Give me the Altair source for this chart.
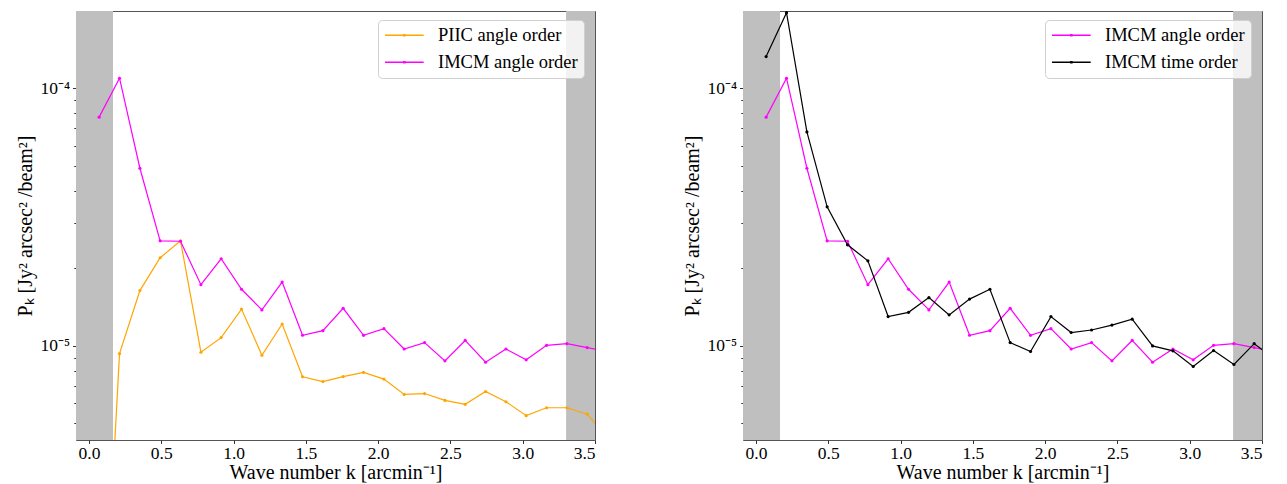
import altair as alt
import pandas as pd

# wave numbers (arcmin^-1)
k = [0.070, 0.211, 0.352, 0.492, 0.633, 0.774, 0.914, 1.055, 1.196, 1.336,
     1.477, 1.618, 1.758, 1.899, 2.040, 2.180, 2.321, 2.462, 2.602, 2.743,
     2.884, 3.024, 3.165, 3.306, 3.446, 3.587]

piic_angle = [3.1e-7, 9.33e-6, 1.64e-5, 2.20e-5, 2.56e-5, 9.45e-6, 1.077e-5, 1.39e-5, 9.2e-6, 1.216e-5,
              7.59e-6, 7.27e-6, 7.60e-6, 7.89e-6, 7.43e-6, 6.48e-6, 6.53e-6, 6.14e-6, 5.93e-6, 6.65e-6,
              6.07e-6, 5.36e-6, 5.75e-6, 5.75e-6, 5.43e-6, 4.40e-6]

imcm_angle = [7.74e-5, 1.096e-4, 4.90e-5, 2.56e-5, 2.55e-5, 1.73e-5, 2.18e-5, 1.66e-5, 1.38e-5, 1.77e-5,
              1.10e-5, 1.146e-5, 1.40e-5, 1.099e-5, 1.167e-5, 9.73e-6, 1.03e-5, 8.75e-6, 1.05e-5, 8.64e-6,
              9.73e-6, 8.83e-6, 1.005e-5, 1.02e-5, 9.85e-6, 9.5e-6]

imcm_time = [1.33e-4, 1.97e-4, 6.78e-5, 3.47e-5, 2.47e-5, 2.14e-5, 1.30e-5, 1.35e-5, 1.54e-5, 1.32e-5,
             1.52e-5, 1.66e-5, 1.03e-5, 9.51e-6, 1.30e-5, 1.127e-5, 1.153e-5, 1.205e-5, 1.27e-5, 1.00e-5,
             9.57e-6, 8.32e-6, 9.59e-6, 8.47e-6, 1.02e-5, 8.9e-6]

band_start = [-0.09, 3.3]
band_end = [0.166, 3.5]

x_ticks = [0.0, 0.5, 1.0, 1.5, 2.0, 2.5, 3.0, 3.5]
y_major = [1e-5, 1e-4]
y_minor = [5e-6, 6e-6, 7e-6, 8e-6, 9e-6, 2e-5, 3e-5, 4e-5, 5e-5, 6e-5, 7e-5, 8e-5, 9e-5]

X_DOMAIN = [-0.09, 3.5]
Y_DOMAIN = [4.31e-6, 2.0e-4]
FONT = "Liberation Serif"
TICK_FS = 17.5
TITLE_FS = 20
LEG_FS = 18.5
W, H = 519, 429


def long_df(series):
    rows = []
    for name, vals in series:
        for kk, v in zip(k, vals):
            rows.append({"k": kk, "P": v, "series": name})
    return pd.DataFrame(rows)


bands = pd.DataFrame({"x0": band_start, "x1": band_end})

# legend glyph: a line ~39px long with a small dot in its middle (symbol size 100 -> unit = 5px)
SYMBOL = "M-1.65,0L6.09,0M2.10,-0.12L2.34,-0.12L2.34,0.12L2.10,0.12Z"


def panel(series, colors, legend_x):
    names = [s[0] for s in series]
    df = long_df(series)
    xsc = alt.Scale(domain=X_DOMAIN, nice=False, zero=False)
    ysc = alt.Scale(type="log", domain=Y_DOMAIN, nice=False)
    csc = alt.Scale(domain=names, range=colors)

    xaxis = alt.Axis(values=x_ticks, format=".1f", title="Wave number k [arcmin⁻¹]",
                     tickSize=3.5, labelPadding=1, titlePadding=0,
                     labelFont=FONT, titleFont=FONT, labelFontSize=TICK_FS, titleFontSize=TITLE_FS,
                     labelColor="black", titleColor="black", titleFontWeight="normal")

    band = alt.Chart(bands).mark_rect(color="#bfbfbf").encode(
        x=alt.X("x0:Q", scale=xsc, axis=xaxis),
        x2="x1:Q",
    )

    lines = alt.Chart(df).mark_line(strokeWidth=1.2, clip=True).encode(
        x=alt.X("k:Q", scale=xsc, axis=xaxis),
        y=alt.Y("P:Q", scale=ysc,
                axis=alt.Axis(values=y_major, orient="left", tickSize=3.5,
                              labelExpr="datum.value > 5e-5 ? '10⁻⁴' : '10⁻⁵'",
                              title="Pₖ [Jy² arcsec² /beam²]", titlePadding=4, labelPadding=3,
                              labelFont=FONT, titleFont=FONT, labelFontSize=TICK_FS,
                              titleFontSize=TITLE_FS, labelColor="black", titleColor="black",
                              titleFontWeight="normal")),
        color=alt.Color("series:N", scale=csc,
                        legend=alt.Legend(title=None, orient="none", legendX=legend_x, legendY=9,
                                          symbolType=SYMBOL, symbolSize=100, symbolStrokeWidth=1.3,
                                          labelFont=FONT, labelFontSize=LEG_FS, labelColor="black")),
        detail="series:N",
        order=alt.Order("k:Q"),
    )

    pts = alt.Chart(df).mark_circle(size=10, opacity=1, clip=True).encode(
        x=alt.X("k:Q", scale=xsc, axis=xaxis),
        y=alt.Y("P:Q", scale=ysc,
                axis=alt.Axis(values=y_minor, orient="left", tickSize=2.2, labels=False, title=None,
                              domain=False, grid=False)),
        color=alt.Color("series:N", scale=csc, legend=None),
    )

    return alt.layer(band, lines, pts).resolve_axis(y="independent").properties(width=W, height=H)


left = panel([("PIIC angle order", piic_angle), ("IMCM angle order", imcm_angle)],
             ["#FFA500", "#FF00FF"], 302)
right = panel([("IMCM angle order", imcm_angle), ("IMCM time order", imcm_time)],
              ["#FF00FF", "#000000"], 302)

chart = alt.hconcat(left, right, spacing=86).resolve_scale(color="independent").resolve_legend(
    color="independent"
).properties(
    padding={"left": 15, "top": 10, "right": 20, "bottom": 0}
).configure(font=FONT).configure_view(stroke="#555", strokeWidth=1).configure_axis(
    grid=False, domain=False, tickColor="#333",
).configure_legend(
    fillColor="rgba(255,255,255,0.8)",
    strokeColor="#d0d0d0", cornerRadius=4, padding=6, labelOffset=35.5, rowPadding=8,
    labelLimit=400,
)

chart.save("out.html", embed_options={"renderer": "svg", "actions": False})
